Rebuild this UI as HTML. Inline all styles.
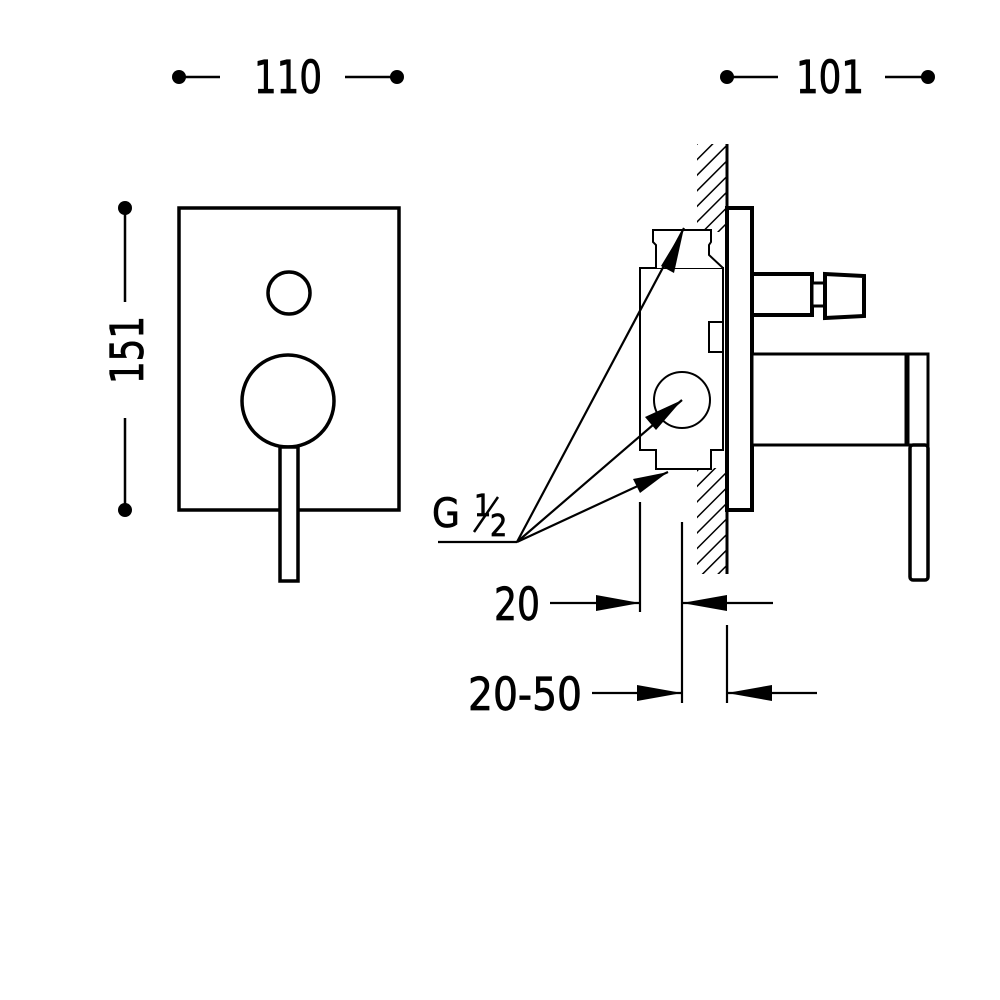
<!DOCTYPE html>
<html><head><style>html,body{margin:0;padding:0;background:#fff;width:1000px;height:1000px;overflow:hidden}</style></head>
<body>
<svg width="1000" height="1000" viewBox="0 0 1000 1000" xmlns="http://www.w3.org/2000/svg">
<defs>
<pattern id="h" width="11" height="11" patternUnits="userSpaceOnUse" patternTransform="rotate(45)">
<line x1="0" y1="0" x2="0" y2="11" stroke="#000" stroke-width="3"/>
</pattern>
<clipPath id="wc"><rect x="697" y="144" width="30" height="430"/></clipPath>
</defs>
<g font-family="'DejaVu Sans Condensed','Liberation Sans',sans-serif" fill="#000" stroke="#000" stroke-width="0.8">
<text x="288" y="93" font-size="45" text-anchor="middle" textLength="68" lengthAdjust="spacingAndGlyphs">110</text>
<text x="830" y="93" font-size="45" text-anchor="middle" textLength="68" lengthAdjust="spacingAndGlyphs">101</text>
<text transform="translate(143,350) rotate(-90)" font-size="45" text-anchor="middle" textLength="68" lengthAdjust="spacingAndGlyphs">151</text>
</g>
<g fill="#000">
<circle cx="179" cy="77" r="7"/><circle cx="397" cy="77" r="7"/>
<line x1="180" y1="77" x2="220" y2="77" stroke="#000" stroke-width="2.5"/>
<line x1="345" y1="77" x2="396" y2="77" stroke="#000" stroke-width="2.5"/>
<circle cx="727" cy="77" r="7"/><circle cx="928" cy="77" r="7"/>
<line x1="728" y1="77" x2="778" y2="77" stroke="#000" stroke-width="2.5"/>
<line x1="885" y1="77" x2="927" y2="77" stroke="#000" stroke-width="2.5"/>
<circle cx="125" cy="208" r="7"/><circle cx="125" cy="510" r="7"/>
<line x1="125" y1="209" x2="125" y2="302" stroke="#000" stroke-width="2.5"/>
<line x1="125" y1="418" x2="125" y2="509" stroke="#000" stroke-width="2.5"/>
</g>
<g fill="none" stroke="#000" stroke-width="3.5">
<rect x="179" y="208" width="220" height="302"/>
<circle cx="289" cy="293" r="21"/>
<circle cx="288" cy="401" r="46"/>
<rect x="280" y="447" width="18" height="134" fill="#fff"/>
</g>
<rect x="697" y="144" width="30" height="430" fill="url(#h)" clip-path="url(#wc)"/>
<rect x="653" y="232" width="74" height="236" fill="#fff"/>
<g fill="#fff" stroke="#000">
<line x1="727" y1="144" x2="727" y2="574" stroke-width="3"/>
<path d="M640 268 H723 V450 H711 V469 H656 V450 H640 Z" stroke-width="2"/>
<path d="M656 268 V245 L653 242 V230 H711 V242 L709 245 V255 L723 268" stroke-width="2"/>
<rect x="709" y="322" width="14" height="30" stroke-width="2"/>
<circle cx="682" cy="400" r="28" stroke-width="2"/>
<rect x="727" y="208" width="25" height="302" stroke-width="4"/>
<rect x="752" y="274" width="60" height="41" stroke-width="4"/>
<rect x="812" y="283" width="13" height="23" stroke-width="3"/>
<path d="M825 274 L864 276 V316 L825 318 Z" stroke-width="4"/>
<rect x="752" y="354" width="176" height="91" stroke-width="3"/>
<line x1="907" y1="354" x2="907" y2="445" stroke-width="5"/>
<rect x="910" y="445" width="18" height="135" rx="3" stroke-width="3.5"/>
</g>
<g stroke="#000" stroke-width="2.2" fill="none">
<line x1="438" y1="542" x2="517" y2="542"/>
<line x1="517" y1="542" x2="684" y2="228"/>
<line x1="517" y1="542" x2="682" y2="400"/>
<line x1="517" y1="542" x2="668" y2="472"/>
<line x1="640" y1="502" x2="640" y2="612"/>
<line x1="682" y1="522" x2="682" y2="703"/>
<line x1="727" y1="625" x2="727" y2="703"/>
<line x1="550" y1="603" x2="640" y2="603"/>
<line x1="682" y1="603" x2="773" y2="603"/>
<line x1="592" y1="693" x2="682" y2="693"/>
<line x1="727" y1="693" x2="817" y2="693"/>
</g>
<g fill="#000">
<polygon points="684,228 674,273 661,266"/>
<polygon points="682,400 656,430 645,417"/>
<polygon points="668,472 640,493 633,479"/>
<polygon points="640,603 596,595 596,611"/>
<polygon points="682,603 727,595 727,611"/>
<polygon points="682,693 637,685 637,701"/>
<polygon points="727,693 772,685 772,701"/>
</g>
<g font-family="'DejaVu Sans Condensed','Liberation Sans',sans-serif" fill="#000" stroke="#000" stroke-width="0.7">
<text x="432" y="527" font-size="40">G</text>
<text x="474" y="516" font-size="30">1</text>
<line x1="474" y1="532" x2="498" y2="497" stroke="#000" stroke-width="2.5"/>
<text x="490" y="536" font-size="30">2</text>
<text x="517" y="620" font-size="45" text-anchor="middle" textLength="46" lengthAdjust="spacingAndGlyphs">20</text>
<text x="525" y="710" font-size="45" text-anchor="middle" textLength="114" lengthAdjust="spacingAndGlyphs">20-50</text>
</g>
</svg>
</body></html>
